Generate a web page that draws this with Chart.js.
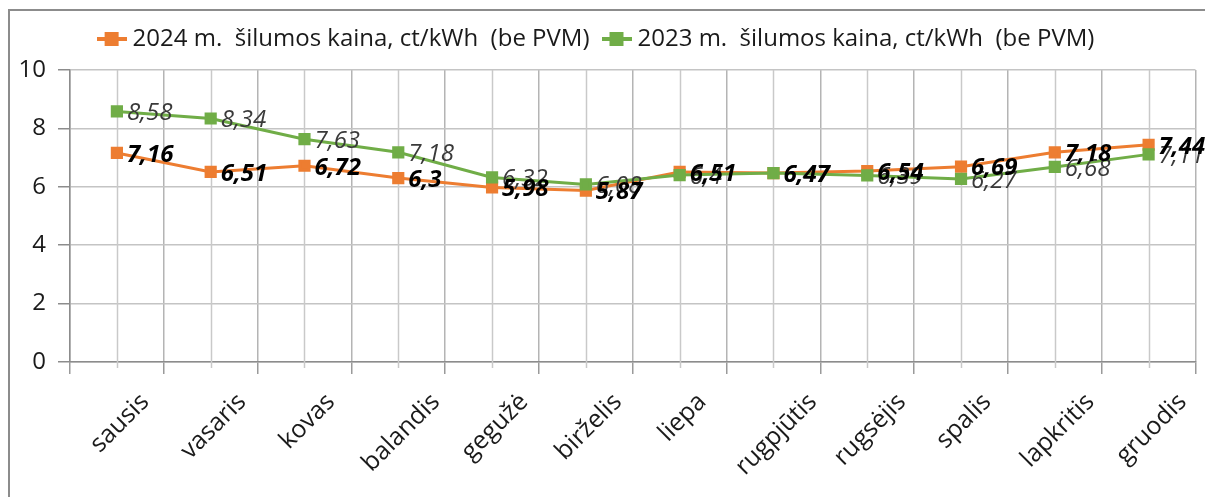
<!DOCTYPE html>
<html>
<head>
<meta charset="utf-8">
<script src="https://cdn.jsdelivr.net/npm/chart.js@4.4.1/dist/chart.umd.min.js"></script>
<style>
  html, body { margin: 0; padding: 0; background: #fff; overflow: hidden; }
  #frame { position: absolute; left: 8px; top: 9px; width: 1210px; height: 500px; border: 2px solid #8c8c8c; box-sizing: border-box; }
  #wrap { position: absolute; left: 0; top: 0; width: 1205px; height: 497px; }
</style>
</head>
<body>
<div id="frame"></div>
<div id="wrap"><canvas id="chart" width="1205" height="497"></canvas></div>
<script>
// Mėnesiai (x ašis)
const months = ['sausis', 'vasaris', 'kovas', 'balandis', 'gegužė', 'birželis',
  'liepa', 'rugpjūtis', 'rugsėjis', 'spalis', 'lapkritis', 'gruodis'];

// Šilumos kaina, ct/kWh (be PVM)
const price2024 = [7.16, 6.51, 6.72, 6.3, 5.98, 5.87, 6.51, 6.47, 6.54, 6.69, 7.18, 7.44];
const price2023 = [8.58, 8.34, 7.63, 7.18, 6.32, 6.08, 6.4, 6.47, 6.39, 6.27, 6.68, 7.11];

const label2024 = '2024 m.  šilumos kaina, ct/kWh  (be PVM)';
const label2023 = '2023 m.  šilumos kaina, ct/kWh  (be PVM)';

const ORANGE = '#ED7D31';
const GREEN = '#70AD47';
const FONT = "'Open Sans', 'Noto Sans', sans-serif";
const FS = 24;

// Legendos žymeklis: linija su kvadratu
function legendMarker(color) {
  const c = document.createElement('canvas');
  c.width = 30; c.height = 16;
  const g = c.getContext('2d');
  g.strokeStyle = color;
  g.lineWidth = 4;
  g.beginPath(); g.moveTo(0, 8); g.lineTo(30, 8); g.stroke();
  g.fillStyle = color;
  g.fillRect(8, 1, 14, 14);
  return c;
}

// Daugiau vietos po legenda
const legendGap = {
  id: 'legendGap',
  beforeInit(chart) {
    const fit = chart.legend.fit;
    chart.legend.fit = function () {
      fit.call(chart.legend);
      this.height += 9;
    };
  }
};

// Vertikalios linijos per mėnesių vidurį + trumpos žymės
const centerGrid = {
  id: 'centerGrid',
  beforeDatasetsDraw(chart) {
    const { ctx, chartArea, scales } = chart;
    const x = scales.x;
    ctx.save();
    ctx.lineWidth = 1.5;
    ctx.strokeStyle = '#c9c9c9';
    months.forEach((m, i) => {
      const px = Math.round(x.getPixelForValue(i)) + 0.5;
      ctx.beginPath();
      ctx.moveTo(px, chartArea.top);
      ctx.lineTo(px, chartArea.bottom + 6);
      ctx.stroke();
    });
    ctx.restore();
  }
};

// X ašies pavadinimai, pasukti 45°, centruoti po mėnesiu
const monthLabels = {
  id: 'monthLabels',
  afterDraw(chart) {
    const { ctx, chartArea, scales } = chart;
    const x = scales.x;
    ctx.save();
    ctx.font = '25px ' + FONT;
    ctx.fillStyle = '#1a1a1a';
    ctx.textAlign = 'center';
    ctx.textBaseline = 'middle';
    months.forEach((m, i) => {
      const w = ctx.measureText(m).width;
      const cx = x.getPixelForValue(i) + 3;
      const cy = chartArea.bottom + 36 + w * 0.3536;
      ctx.save();
      ctx.translate(cx, cy);
      ctx.rotate(-Math.PI / 4);
      ctx.fillText(m, 0, 0);
      ctx.restore();
    });
    ctx.restore();
  }
};

// Reikšmių etiketės prie taškų
const valueLabels = {
  id: 'valueLabels',
  afterDatasetsDraw(chart) {
    const { ctx } = chart;
    ctx.save();
    ctx.textAlign = 'left';
    ctx.textBaseline = 'middle';
    // pirma 2023, tada 2024 (paryškintos virš jų)
    [1, 0].forEach(di => {
      const ds = chart.data.datasets[di];
      const meta = chart.getDatasetMeta(di);
      ctx.font = (di === 0 ? 'italic bold ' : 'italic ') + FS + 'px ' + FONT;
      ctx.fillStyle = di === 0 ? '#000000' : '#3a3a3a';
      meta.data.forEach((pt, i) => {
        const txt = String(ds.data[i]).replace('.', ',');
        ctx.fillText(txt, pt.x + 10, pt.y + 2);
      });
    });
    ctx.restore();
  }
};

const ctx = document.getElementById('chart').getContext('2d');
new Chart(ctx, {
  type: 'line',
  data: {
    labels: months,
    datasets: [{
      label: label2024,
      data: price2024,
      order: 1,
      borderColor: ORANGE,
      backgroundColor: ORANGE,
      borderWidth: 3,
      pointStyle: 'rect',
      pointRadius: 6.5,
      pointBackgroundColor: ORANGE,
      pointBorderColor: ORANGE,
      tension: 0
    }, {
      label: label2023,
      data: price2023,
      order: 0,
      borderColor: GREEN,
      backgroundColor: GREEN,
      borderWidth: 3,
      pointStyle: 'rect',
      pointRadius: 6.5,
      pointBackgroundColor: GREEN,
      pointBorderColor: GREEN,
      tension: 0
    }]
  },
  options: {
    responsive: false,
    animation: false,
    layout: { padding: { left: 0, right: 8, top: 9, bottom: 0 } },
    plugins: {
      tooltip: { enabled: false },
      legend: {
        display: true,
        position: 'top',
        reverse: true,
        labels: {
          color: '#1a1a1a',
          font: { family: FONT, size: FS },
          boxHeight: 16,
          padding: 18,
          usePointStyle: true,
          pointStyleWidth: 18,
          generateLabels(chart) {
            const items = Chart.defaults.plugins.legend.labels.generateLabels(chart);
            items.forEach(it => {
              it.pointStyle = legendMarker(it.datasetIndex === 0 ? ORANGE : GREEN);
            });
            return items;
          }
        }
      }
    },
    scales: {
      x: {
        offset: true,
        grid: {
          offset: true,
          color: '#b4b4b4',
          lineWidth: 1.5,
          tickLength: 12,
          tickColor: '#9a9a9a'
        },
        border: { color: '#8c8c8c', width: 1.5 },
        ticks: { display: false },
        afterFit(scale) { scale.height = 135; }
      },
      y: {
        min: 0,
        max: 10,
        ticks: {
          stepSize: 2,
          color: '#1a1a1a',
          font: { family: FONT, size: FS },
          padding: 12
        },
        grid: {
          color: '#c4c4c4',
          lineWidth: 1.5,
          tickLength: 12,
          tickColor: '#8c8c8c'
        },
        border: { color: '#8c8c8c', width: 1.5 },
        afterFit(scale) { scale.width = 70; }
      }
    }
  },
  plugins: [legendGap, centerGrid, monthLabels, valueLabels]
});
</script>
</body>
</html>
